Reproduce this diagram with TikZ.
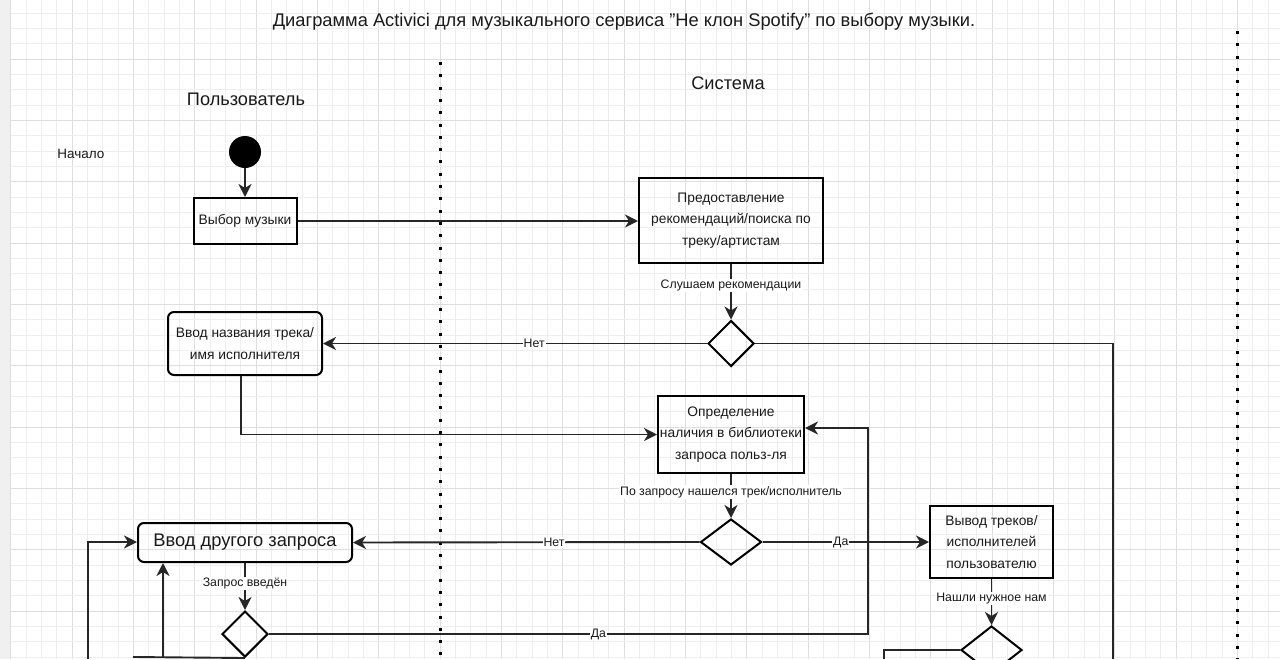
\documentclass[tikz,border=0pt]{standalone}
\usepackage{fontspec}
\setmainfont{Liberation Sans}
\usetikzlibrary{arrows.meta,shapes.geometric}
\definecolor{gminor}{HTML}{EEEEEE}
\definecolor{gmajor}{HTML}{DEDEDE}
\definecolor{txt}{HTML}{1A1A1A}
\begin{document}
\begin{tikzpicture}[x=1pt,y=-1pt,
  every node/.style={text=txt},
  fnt/.style={font=\fontsize{#1}{21.8}\selectfont},
  box/.style={draw=black, line width=2pt, align=center, inner sep=0pt, fnt=13.8},
  rbox/.style={box, rounded corners=6pt},
  dia/.style={draw=black, line width=2pt, diamond, inner sep=0pt},
  conn/.style={line width=1.9pt, draw=black!85},
  arr/.style={conn, -{Stealth[length=13pt,width=13pt,inset=4pt]}},
  lbl/.style={fill=white, inner sep=1pt, font=\fontsize{12.3}{13}\selectfont},
  sep/.style={line width=3pt, dash pattern=on 3pt off 9.3pt}
]
\useasboundingbox (0,0) rectangle (1280,659);
\fill[white] (0,0) rectangle (1280,659);
\fill[black!6] (0,0) rectangle (10.7,659);
% grid
\foreach \i in {0,...,83}{
  \pgfmathsetmacro{\xx}{10.67+15.333*\i}
  \pgfmathtruncatemacro{\mm}{mod(\i,4)}
  \ifnum\mm=0 \draw[gmajor,line width=0.8pt] (\xx,0) -- (\xx,659);
  \else \draw[gminor,line width=0.6pt] (\xx,0) -- (\xx,659); \fi
}
\foreach \i in {1,...,44}{
  \pgfmathsetmacro{\yy}{-2.33+15.333*\i}
  \pgfmathtruncatemacro{\mm}{mod(\i,4)}
  \ifnum\mm=0 \draw[gmajor,line width=0.8pt] (10.7,\yy) -- (1280,\yy);
  \else \draw[gminor,line width=0.6pt] (10.7,\yy) -- (1280,\yy); \fi
}
% separators
\draw[sep] (440,62) -- (440,659);
\draw[sep] (1237,31) -- (1237,659);
% titles
\node[fnt=18.3] (title) at (624,22) {Диаграмма Activici для музыкального сервиса \symbol{34}Не клон Spotify\symbol{34} по выбору музыки.};
\node[fnt=18.2] (hU) at (246,99) {Пользователь};
\node[fnt=18.2] (hS) at (728,83) {Система};
\node[fnt=13.5] (nach) at (81,154) {Начало};
% nodes
\node[circle, fill=black, inner sep=0pt, minimum size=32pt] (start) at (245,152) {};
\node[box, minimum width=103pt, minimum height=46pt] (vm) at (245,221) {Выбор музыки};
\node[box, minimum width=184pt, minimum height=85pt] (pr) at (731,220.5) {Предоставление\\рекомендаций/поиска по\\треку/артистам};
\node[dia, minimum width=46pt, minimum height=46pt] (d1) at (731,343.5) {};
\node[rbox, minimum width=154pt, minimum height=63pt] (vn) at (245,343.5) {Ввод названия трека/\\имя исполнителя};
\node[box, minimum width=146pt, minimum height=77pt] (op) at (731,434.5) {Определение\\наличия в библиотеки\\запроса польз-ля};
\node[dia, minimum width=61pt, minimum height=46pt] (d2) at (731,542) {};
\node[rbox, fnt=18.3, minimum width=214pt, minimum height=39pt] (vd) at (245,542.5) {Ввод другого запроса};
\node[box, minimum width=123pt, minimum height=72pt] (vt) at (991.5,542) {Вывод треков/\\исполнителей\\пользователю};
\node[dia, minimum width=61pt, minimum height=48pt] (d3) at (991.5,650) {};
\node[dia, minimum width=46pt, minimum height=46pt] (d4) at (245,634) {};
% free ends
\coordinate (e1) at (1113,659);
\coordinate (e2) at (884,659);
\coordinate (e3) at (133,657);
\coordinate (e4) at (163,657);
\coordinate (e5) at (88,659);
% connectors
\draw[arr] (start) -- (vm);
\draw[arr] (vm.east) -- (vm.east -| pr.west);
\draw[arr] (pr.south) -- node[lbl, pos=0.39] {Слушаем рекомендации} (d1.north);
\draw[arr] (d1.west) -- node[lbl, pos=0.45] {Нет} (vn.east);
\draw[conn] (d1.east) -| (e1);
\draw[arr] ([xshift=-4pt]vn.south) |- (op.west);
\draw[arr] (op.south) -- node[lbl, pos=0.41] {По запросу нашелся трек/исполнитель} (d2.north);
\draw[arr] (d2.west) -- node[lbl, pos=0.42] {Нет} (vd.east);
\draw[arr] (d2.east) -- node[lbl, pos=0.47] {Да} (vt.west);
\draw[arr] (vt.south) -- node[lbl, pos=0.42] {Нашли нужное нам} (d3.north);
\draw[conn] (d3.west) -| (e2);
\draw[arr] (vd.south) -- node[lbl, pos=0.43] {Запрос введён} (d4.north);
\draw[arr] (d4.east) -- node[lbl, pos=0.55] {Да} (868,634) -- (868,428) -- (op.east |- 0,428);
\draw[conn] (d4.south) -- (e3);
\draw[arr] (e4) -- (e4 |- vd.south);
\draw[arr] (e5) |- ([yshift=0.5pt]vd.west);
\end{tikzpicture}
\end{document}
